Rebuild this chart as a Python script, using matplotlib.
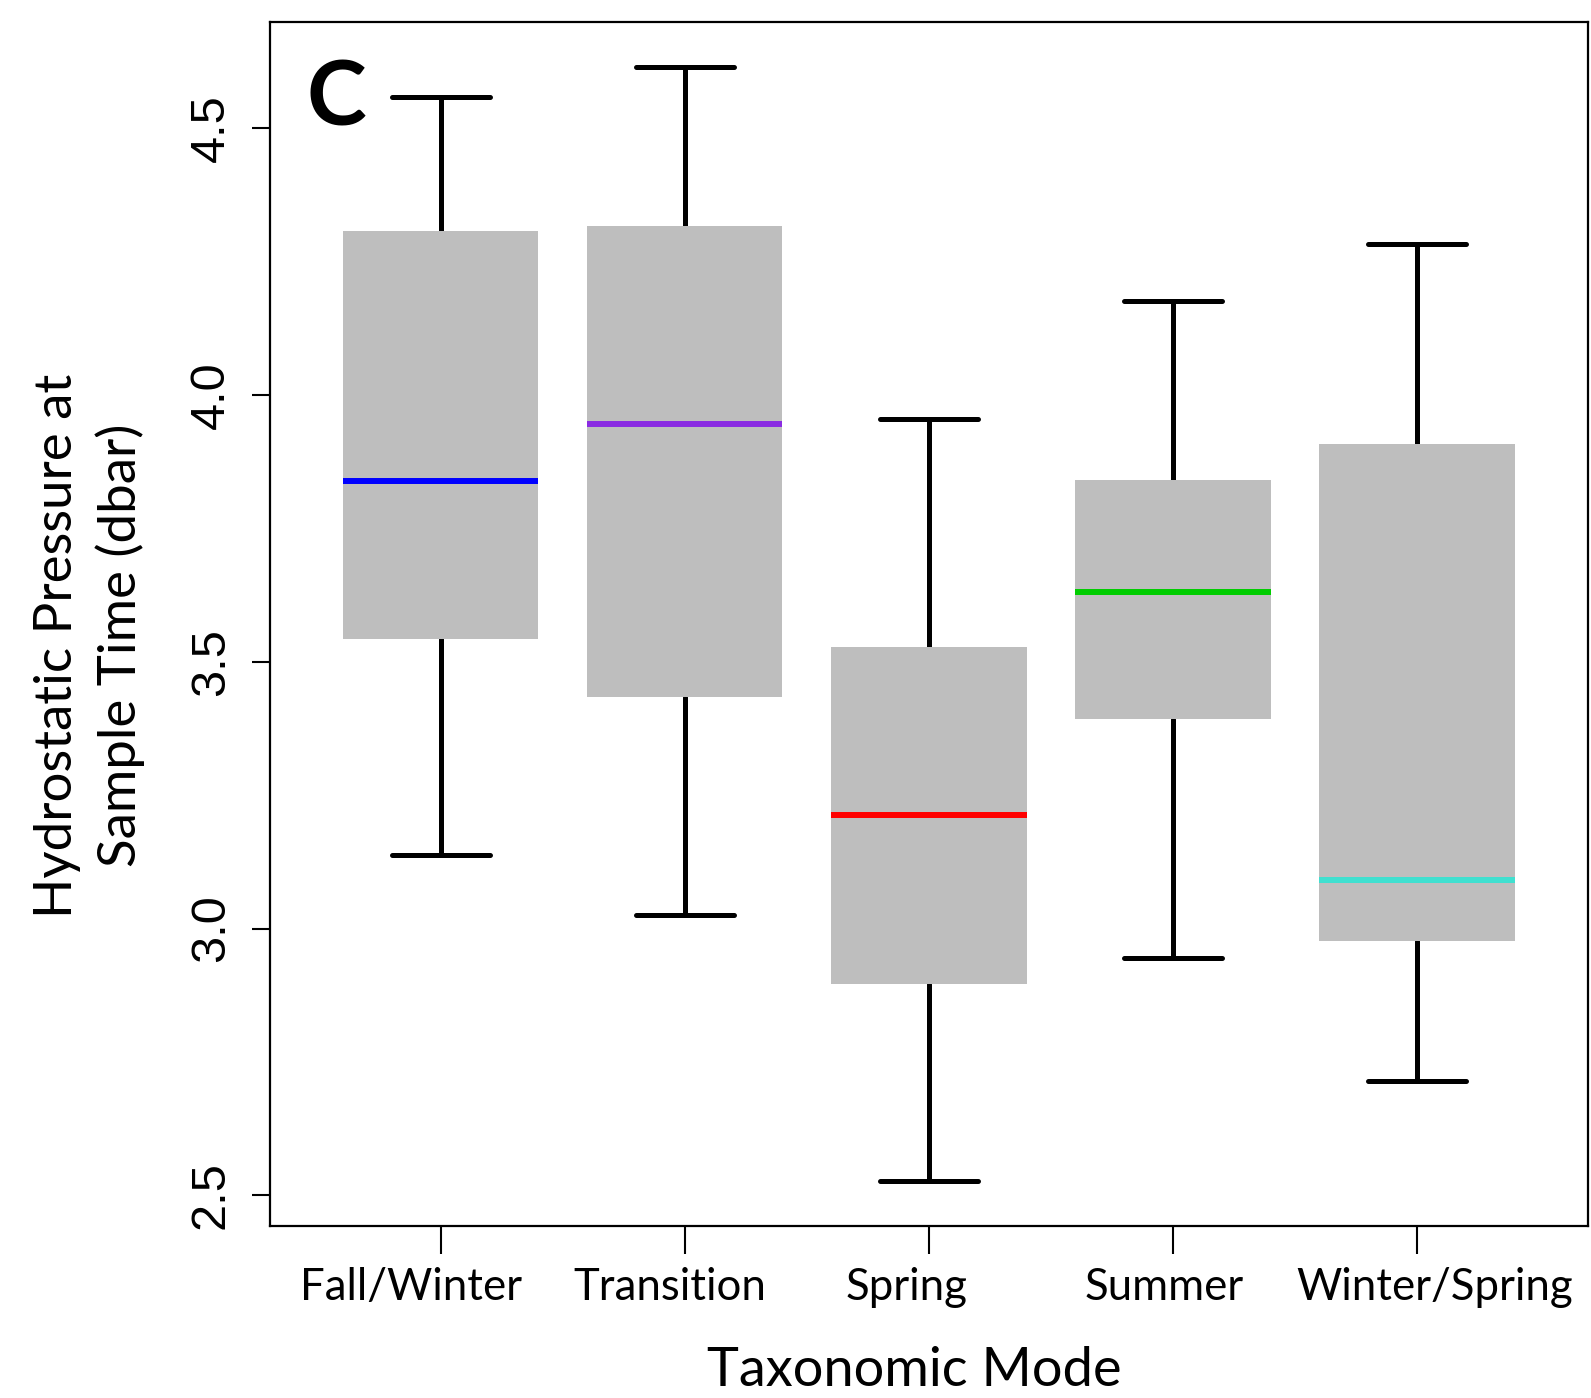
"""Box plot of hydrostatic pressure by taxonomic mode (panel C)."""

import matplotlib
matplotlib.use("Agg")
import matplotlib.pyplot as plt
from matplotlib.transforms import ScaledTranslation

CATEGORIES = ["Fall/Winter", "Transition", "Spring", "Summer", "Winter/Spring"]
WHISKER_LOW = [3.137, 3.025, 2.527, 2.945, 2.715]
Q1 = [3.542, 3.433, 2.897, 3.392, 2.977]
MEDIAN = [3.838, 3.945, 3.213, 3.631, 3.091]
Q3 = [4.306, 4.316, 3.527, 3.840, 3.907]
WHISKER_HIGH = [4.557, 4.614, 3.954, 4.175, 4.283]
MEDIAN_COLORS = ["#0000FF", "#8A2BE2", "#FF0000", "#00CD00", "#40E0D0"]
Y_TICKS = [2.5, 3.0, 3.5, 4.0, 4.5]

# horizontal nudge of each category label (pixels), as in the original layout
LABEL_NUDGE_PX = [-30, -15, -22, -9, 18]

LABEL_FONT = "Lato"
TICK_FONT = "Liberation Sans"


def main() -> None:
    fig = plt.figure(figsize=(15.91, 13.98), dpi=100)
    ax = fig.add_axes([0.1697, 0.1233, 0.8283, 0.8607])

    stats = [
        {"label": c, "whislo": lo, "q1": a, "med": m, "q3": b, "whishi": hi, "fliers": []}
        for c, lo, a, m, b, hi in zip(CATEGORIES, WHISKER_LOW, Q1, MEDIAN, Q3, WHISKER_HIGH)
    ]
    positions = list(range(1, len(CATEGORIES) + 1))
    bp = ax.bxp(
        stats,
        positions=positions,
        widths=0.8,
        capwidths=0.4,
        patch_artist=True,
        showfliers=False,
        boxprops={"facecolor": "#BEBEBE", "edgecolor": "none", "linewidth": 0},
        whiskerprops={"color": "black", "linewidth": 3.6, "solid_capstyle": "round"},
        capprops={"color": "black", "linewidth": 3.6, "solid_capstyle": "round"},
        medianprops={"linewidth": 4.3, "solid_capstyle": "butt"},
    )
    for line, color in zip(bp["medians"], MEDIAN_COLORS):
        line.set_color(color)
    for w in bp["whiskers"]:
        w.set_zorder(1)

    ax.set_xlim(0.3, 5.7)
    ax.set_ylim(2.4435, 4.6975)
    ax.set_yticks(Y_TICKS)
    ax.set_yticklabels([f"{t:.1f}" for t in Y_TICKS], rotation=90, va="center",
                       fontsize=35, family=TICK_FONT)
    ax.set_xticks(positions)
    ax.set_xticklabels(CATEGORIES, fontsize=31.5, family=LABEL_FONT)
    ax.tick_params(axis="y", length=13, width=1.5, pad=13)
    ax.tick_params(axis="x", length=20, width=1.5, pad=10)
    for label, dx in zip(ax.get_xticklabels(), LABEL_NUDGE_PX):
        label.set_transform(label.get_transform() + ScaledTranslation(dx / 100, 0, fig.dpi_scale_trans))
    for spine in ax.spines.values():
        spine.set_linewidth(1.6)

    ax.set_ylabel("Hydrostatic Pressure at\nSample Time (dbar)", fontsize=38,
                  family=LABEL_FONT, linespacing=1.35)
    ax.yaxis.set_label_coords(-0.0947, 0.482)
    ax.set_xlabel("Taxonomic Mode", fontsize=39, family=LABEL_FONT)
    ax.xaxis.set_label_coords(0.489, -0.1)
    ax.text(0.0277, 0.914, "C", transform=ax.transAxes, fontsize=65,
            fontweight="bold", family=LABEL_FONT, va="baseline", ha="left")

    fig.savefig("out.png", dpi=100)
    plt.close(fig)


if __name__ == "__main__":
    main()
